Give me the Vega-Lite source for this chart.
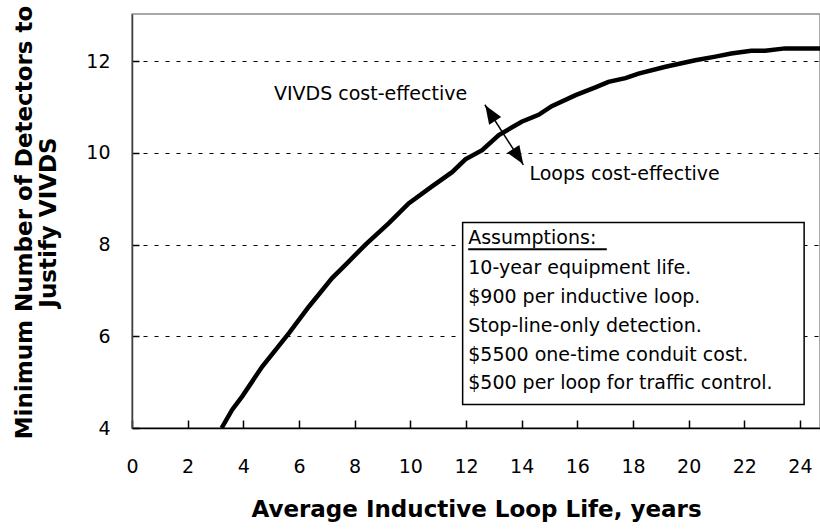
{
  "$schema": "https://vega.github.io/schema/vega-lite/v6.json",
  "autosize": {"type": "none"},
  "padding": {"left": 132, "top": 14, "right": 0, "bottom": 101},
  "width": 688,
  "height": 414,
  "background": "white",
  "config": {
    "view": {"stroke": "#8c8c8c", "strokeWidth": 1.5},
    "font": "DejaVu Sans"
  },
  "datasets": {
    "curve": [
      {"life": 3.22, "detectors": 4.0},
      {"life": 3.60, "detectors": 4.40},
      {"life": 3.96, "detectors": 4.69},
      {"life": 4.68, "detectors": 5.34},
      {"life": 5.64, "detectors": 6.07},
      {"life": 6.36, "detectors": 6.65},
      {"life": 7.19, "detectors": 7.27},
      {"life": 7.67, "detectors": 7.56},
      {"life": 8.39, "detectors": 8.00},
      {"life": 9.23, "detectors": 8.47},
      {"life": 9.94, "detectors": 8.90},
      {"life": 10.78, "detectors": 9.27},
      {"life": 11.50, "detectors": 9.58},
      {"life": 11.98, "detectors": 9.86},
      {"life": 12.58, "detectors": 10.06},
      {"life": 13.18, "detectors": 10.39},
      {"life": 14.00, "detectors": 10.68},
      {"life": 14.61, "detectors": 10.83},
      {"life": 15.08, "detectors": 11.02},
      {"life": 15.94, "detectors": 11.26},
      {"life": 16.65, "detectors": 11.43},
      {"life": 17.12, "detectors": 11.55},
      {"life": 17.73, "detectors": 11.63},
      {"life": 18.20, "detectors": 11.73},
      {"life": 19.17, "detectors": 11.88},
      {"life": 20.24, "detectors": 12.02},
      {"life": 20.96, "detectors": 12.10},
      {"life": 21.53, "detectors": 12.17},
      {"life": 22.25, "detectors": 12.23},
      {"life": 22.75, "detectors": 12.23},
      {"life": 23.47, "detectors": 12.28},
      {"life": 24.72, "detectors": 12.28}
    ],
    "arrow": [{"x1": 12.68, "y1": 11.05, "x2": 14.06, "y2": 9.74}],
    "headUp": [{"x": 12.89, "y": 10.85}],
    "headDown": [{"x": 13.86, "y": 9.94}],
    "box": [{"x1": 11.88, "x2": 24.15, "y1": 8.48, "y2": 4.51}],
    "underline": [{"x1": 12.08, "x2": 17.06, "y": 7.90}],
    "assumptions": [
      {"x": 12.08, "y": 8.14, "label": "Assumptions:"},
      {"x": 12.08, "y": 7.49, "label": "10-year equipment life."},
      {"x": 12.08, "y": 6.85, "label": "$900 per inductive loop."},
      {"x": 12.08, "y": 6.22, "label": "Stop-line-only detection."},
      {"x": 12.08, "y": 5.60, "label": "$5500 one-time conduit cost."},
      {"x": 12.08, "y": 4.98, "label": "$500 per loop for traffic control."}
    ],
    "notes": [
      {"x": 5.10, "y": 11.29, "label": "VIVDS cost-effective"},
      {"x": 14.28, "y": 9.55, "label": "Loops cost-effective"}
    ]
  },
  "layer": [
    {
      "data": {"name": "curve"},
      "mark": {"type": "line", "color": "black", "strokeWidth": 4.5, "clip": true},
      "encoding": {
        "x": {
          "field": "life", "type": "quantitative",
          "scale": {"domain": [0, 24.72], "nice": false, "zero": false},
          "axis": {
            "values": [0, 2, 4, 6, 8, 10, 12, 14, 16, 18, 20, 22, 24],
            "title": "Average Inductive Loop Life, years",
            "titleFont": "DejaVu Sans", "titleFontSize": 23, "titleFontWeight": "bold",
            "titleColor": "black", "titleX": 344, "titleY": 81, "titleBaseline": "middle", "titleAlign": "center",
            "labelFont": "DejaVu Sans", "labelFontSize": 19, "labelColor": "black",
            "labelBaseline": "middle", "labelPadding": 46, "labelFlush": false,
            "ticks": true, "tickSize": -8, "tickColor": "black", "tickWidth": 1.5, "tickOpacity": 1,
            "domainColor": "black", "domainWidth": 1.5,
            "grid": false
          }
        },
        "y": {
          "field": "detectors", "type": "quantitative",
          "scale": {"domain": [4, 13.03], "nice": false, "zero": false},
          "axis": {
            "values": [4, 6, 8, 10, 12],
            "title": ["Minimum Number of Detectors to", "Justify VIVDS"],
            "titleFont": "DejaVu Sans", "titleFontSize": 23, "titleFontWeight": "bold",
            "titleColor": "black", "titleAngle": -90, "titleX": -108, "titleY": 208,
            "titleAlign": "center", "titleBaseline": "middle", "titleLineHeight": 24,
            "labelFont": "DejaVu Sans", "labelFontSize": 19, "labelColor": "black",
            "labelPadding": 29, "labelFlush": false,
            "ticks": true, "tickSize": -7, "tickColor": "black", "tickWidth": 1.5, "tickOpacity": 1,
            "domainColor": "#404040", "domainWidth": 1.5,
            "grid": true, "gridColor": "black", "gridDash": [4, 7], "gridWidth": 1
          }
        }
      }
    },
    {
      "data": {"name": "arrow"},
      "mark": {"type": "rule", "color": "black", "strokeWidth": 1.5},
      "encoding": {
        "x": {"field": "x1", "type": "quantitative"},
        "y": {"field": "y1", "type": "quantitative"},
        "x2": {"field": "x2"},
        "y2": {"field": "y2"}
      }
    },
    {
      "data": {"name": "headUp"},
      "mark": {"type": "point", "shape": "M0,-1L0.7,0.8L-0.7,0.8Z", "size": 420, "filled": true, "color": "black", "opacity": 1, "angle": 327.4},
      "encoding": {
        "x": {"field": "x", "type": "quantitative"},
        "y": {"field": "y", "type": "quantitative"}
      }
    },
    {
      "data": {"name": "headDown"},
      "mark": {"type": "point", "shape": "M0,-1L0.7,0.8L-0.7,0.8Z", "size": 420, "filled": true, "color": "black", "opacity": 1, "angle": 147.4},
      "encoding": {
        "x": {"field": "x", "type": "quantitative"},
        "y": {"field": "y", "type": "quantitative"}
      }
    },
    {
      "data": {"name": "box"},
      "mark": {"type": "rect", "fill": "white", "stroke": "black", "strokeWidth": 1.5},
      "encoding": {
        "x": {"field": "x1", "type": "quantitative"},
        "x2": {"field": "x2"},
        "y": {"field": "y1", "type": "quantitative"},
        "y2": {"field": "y2"}
      }
    },
    {
      "data": {"name": "underline"},
      "mark": {"type": "rule", "color": "black", "strokeWidth": 2},
      "encoding": {
        "x": {"field": "x1", "type": "quantitative"},
        "x2": {"field": "x2"},
        "y": {"field": "y", "type": "quantitative"}
      }
    },
    {
      "data": {"name": "assumptions"},
      "mark": {"type": "text", "align": "left", "baseline": "middle", "font": "DejaVu Sans", "fontSize": 19, "color": "black"},
      "encoding": {
        "x": {"field": "x", "type": "quantitative"},
        "y": {"field": "y", "type": "quantitative"},
        "text": {"field": "label"}
      }
    },
    {
      "data": {"name": "notes"},
      "mark": {"type": "text", "align": "left", "baseline": "middle", "font": "DejaVu Sans", "fontSize": 19, "color": "black"},
      "encoding": {
        "x": {"field": "x", "type": "quantitative"},
        "y": {"field": "y", "type": "quantitative"},
        "text": {"field": "label"}
      }
    }
  ]
}
